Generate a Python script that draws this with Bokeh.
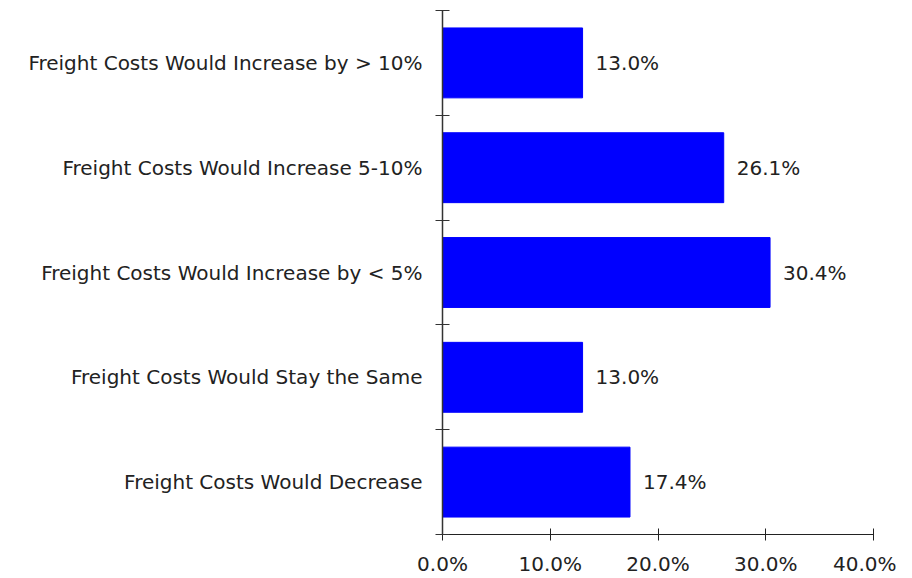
from bokeh.plotting import figure
from bokeh.models import FixedTicker, Range1d, ColumnDataSource
from bokeh.embed import file_html
from bokeh.resources import INLINE
from bokeh.core.properties import value

categories = [
    "Freight Costs Would Increase by > 10%",
    "Freight Costs Would Increase 5-10%",
    "Freight Costs Would Increase by < 5%",
    "Freight Costs Would Stay the Same",
    "Freight Costs Would Decrease",
]
percentages = [13.0, 26.1, 30.4, 13.0, 17.4]
x_ticks = [0, 10, 20, 30, 40]
x_tick_labels = ["0.0%", "10.0%", "20.0%", "30.0%", "40.0%"]

n = len(categories)
ypos = [n - 0.5 - i for i in range(n)]
labels = ["%.1f%%" % v for v in percentages]

FONT = "DejaVu Sans"
TXT = "#222222"
FS = "20px"

src = ColumnDataSource(dict(y=ypos, v=percentages, lab=labels, cat=categories))

p = figure(width=896, height=578, output_backend="svg", toolbar_location=None,
           x_range=Range1d(0, 40), y_range=Range1d(0, n),
           min_border_left=442, min_border_right=23, min_border_top=10, min_border_bottom=36)
p.outline_line_color = None
p.xgrid.visible = False
p.ygrid.visible = False
p.background_fill_color = "white"
p.border_fill_color = "white"

p.hbar(y="y", right="v", left=0, height=0.667, source=src,
       fill_color="#0000FF", line_color="#0000FF")
p.text(x="v", y="y", text="lab", source=src, x_offset=13, text_baseline="middle",
       text_align="left", text_font=value(FONT), text_font_size=FS, text_color=TXT)

ya = p.yaxis[0]
ya.ticker = FixedTicker(ticks=ypos, minor_ticks=list(range(n + 1)))
ya.major_label_overrides = {y: c for y, c in zip(ypos, categories)}
ya.major_tick_in = 0
ya.major_tick_out = 0
ya.minor_tick_in = 7
ya.minor_tick_out = 7
ya.minor_tick_line_color = "#333333"
ya.axis_line_color = "#333333"
ya.axis_line_width = 1.5
ya.major_label_standoff = 13
ya.major_label_text_font = FONT
ya.major_label_text_font_size = FS
ya.major_label_text_color = TXT

xa = p.xaxis[0]
xa.ticker = FixedTicker(ticks=x_ticks, minor_ticks=[])
xa.major_label_overrides = {t: l for t, l in zip(x_ticks, x_tick_labels)}
xa.major_tick_in = 6
xa.major_tick_out = 6
xa.major_tick_line_color = "#222222"
xa.axis_line_color = "#222222"
xa.major_label_standoff = 11
xa.major_label_text_font = FONT
xa.major_label_text_font_size = FS
xa.major_label_text_color = TXT

open("out.html", "w").write(file_html(p, INLINE))
